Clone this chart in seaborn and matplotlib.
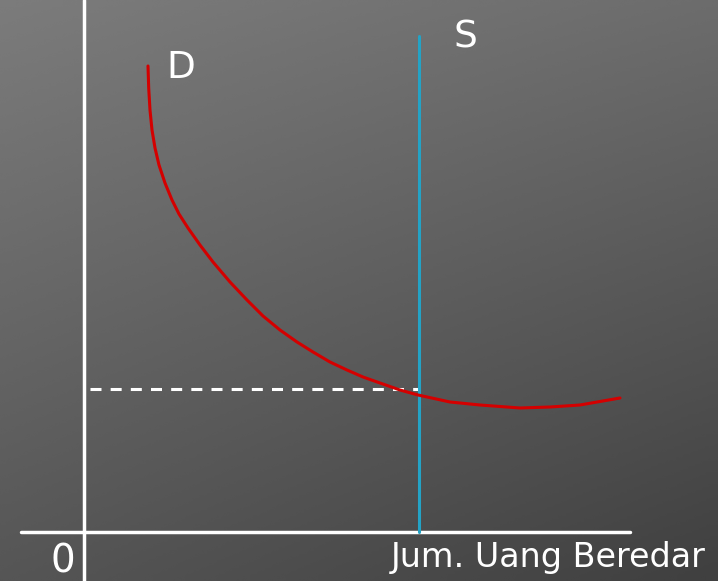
import numpy as np
import matplotlib
matplotlib.use("Agg")
import matplotlib.pyplot as plt
import seaborn as sns
import pandas as pd

# Demand curve D (quantity of money vs interest rate), origin at the axes corner
demand_x = [64, 64.7, 66, 68, 71, 75, 81, 88, 95, 104, 116, 129, 146, 163, 179, 196,
            213, 229, 246, 263, 279, 296, 316, 334, 366, 396, 436, 466, 496, 536]
demand_y = [466, 444, 422, 402, 384, 367, 349, 332, 318, 304, 287, 270, 250, 232, 216, 202,
            190, 180, 170, 162, 155, 149, 142, 137, 130, 127, 124, 125, 127, 134]
supply_x = [335, 335]          # vertical money supply S
supply_y = [0, 496]
equilibrium_y = 143            # dashed line level
labels = {"D": "D", "S": "S", "origin": "0", "xlabel": "Jum. Uang Beredar"}

sns.set_theme(style="white")
plt.rcParams['font.family'] = ['DejaVu Sans']

fig = plt.figure(figsize=(7.18, 5.81), dpi=100)
ax = fig.add_axes([0, 0, 1, 1])
ax.set_xlim(-84, 634)
ax.set_ylim(-49, 532)
ax.axis("off")

# background gradient
yy, xx = np.mgrid[0:1:200j, 0:1:200j]
g = 0.485 - 0.06 * xx - 0.15 * yy - 0.025 * xx * yy
ax.imshow(g, extent=[-84, 634, -49, 532], cmap="gray", vmin=0, vmax=1,
          origin="upper", aspect="auto", zorder=0, interpolation="bicubic")

# axes lines
ax.plot([0, 0], [-49, 532], color="white", lw=2.5, zorder=2)
ax.plot([-63, 546], [0, 0], color="white", lw=2.5, zorder=2)

# dashed equilibrium line
ax.plot([6, supply_x[0]], [equilibrium_y, equilibrium_y], color="white", lw=2.2,
        dashes=(3.6, 3.0), zorder=3)

# supply line
sns.lineplot(x=supply_x, y=supply_y, ax=ax, color="#23a3c6", lw=2.2, zorder=4,
             sort=False, estimator=None)

# demand curve
df = pd.DataFrame({"x": demand_x, "y": demand_y})
sns.lineplot(data=df, x="x", y="y", ax=ax, color="#d40000", lw=2.2, zorder=5,
             sort=False, estimator=None)

ax.set_xlim(-84, 634)
ax.set_ylim(-49, 532)

ax.text(97, 464, labels["D"], color="white", fontsize=27, ha="center", va="center")
ax.text(381, 494, labels["S"], color="white", fontsize=27, ha="center", va="center")
ax.text(-21, -48.5, labels["origin"], color="white", fontsize=28, ha="center", va="bottom")
ax.text(622, -26, labels["xlabel"], color="white", fontsize=24, ha="right", va="center")

fig.savefig("out.png", dpi=100)
